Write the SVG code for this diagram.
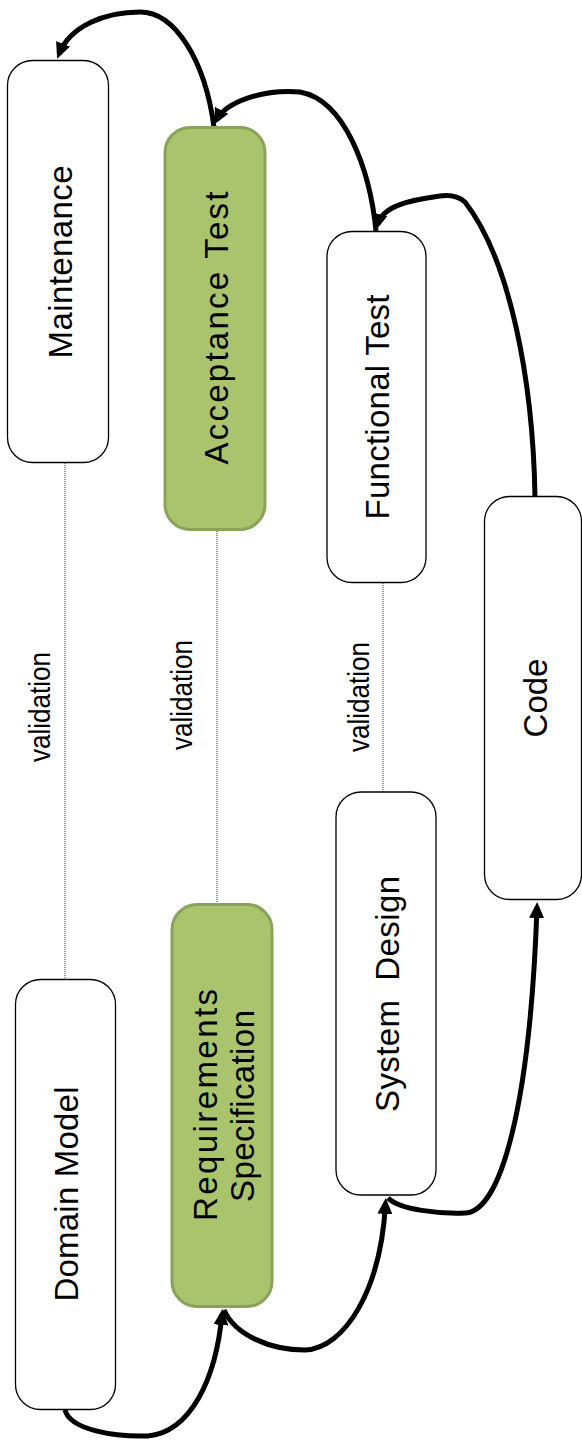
<svg xmlns="http://www.w3.org/2000/svg" width="582" height="1447" viewBox="0 0 582 1447">
  <style>
    .box { fill: #ffffff; stroke: #000000; stroke-width: 1.3; }
    .hl { fill: #a9c46c; stroke: #8ba25a; stroke-width: 3; }
    .lbl { font-family: "Liberation Sans", Arial, sans-serif; font-size: 33px; fill: #000000; text-anchor: middle; }
    .val { font-family: "Liberation Sans", Arial, sans-serif; font-size: 30px; fill: #000000; text-anchor: middle; }
    .flow { fill: none; stroke: #000000; stroke-width: 5; marker-end: url(#head); }
    .trace { fill: none; stroke: #333333; stroke-width: 1; stroke-dasharray: 1 1; }
  </style>
  <defs>
    <marker id="head" viewBox="0 0 16 15" refX="11" refY="7.5" markerWidth="16" markerHeight="15" markerUnits="userSpaceOnUse" orient="auto">
      <path d="M0,0 L16,7.5 L0,15 z" fill="#000000"/>
    </marker>
  </defs>

  <!-- validation traces between matching phases -->
  <g id="traces">
    <line class="trace" x1="65" y1="463" x2="65" y2="979"/>
    <line class="trace" x1="217" y1="531" x2="217" y2="903"/>
    <line class="trace" x1="383" y1="583" x2="383" y2="792"/>
    <text class="val" transform="translate(50,707) rotate(-90)" textLength="110" lengthAdjust="spacingAndGlyphs">validation</text>
    <text class="val" transform="translate(192,695) rotate(-90)" textLength="110" lengthAdjust="spacingAndGlyphs">validation</text>
    <text class="val" transform="translate(369,697) rotate(-90)" textLength="110" lengthAdjust="spacingAndGlyphs">validation</text>
  </g>

  <!-- phase flow -->
  <g id="connectors">
    <path class="flow" d="M65,1410 C70,1430 115,1437 148,1436 C190,1432 216,1380 222,1314"/>
    <path class="flow" d="M224,1310 C235,1335 270,1350 305,1350 C345,1348 381,1290 385.5,1203"/>
    <path class="flow" d="M388,1198 C400,1210 440,1214 465,1213 C500,1212 530,1110 537,907"/>
    <path class="flow" d="M535,497 C533,380 510,260 465,202 Q456,194 440,196 C410,200 382,206 377.5,225"/>
    <path class="flow" d="M376,231 C370,170 345,100 300,92 C262,89 226,102 216.5,120"/>
    <path class="flow" d="M214,127 C205,60 175,12 140,12 C105,12 70,26 59,54"/>
  </g>

  <g id="maintenance">
    <rect class="box" x="7.5" y="60.5" width="101" height="402" rx="25"/>
    <text class="lbl" transform="translate(72,262) rotate(-90)" textLength="193" lengthAdjust="spacing">Maintenance</text>
  </g>
  <g id="acceptance-test">
    <rect class="hl" x="165" y="127.5" width="100" height="402" rx="25"/>
    <text class="lbl" transform="translate(228,328) rotate(-90)" textLength="273" lengthAdjust="spacing">Acceptance Test</text>
  </g>
  <g id="functional-test">
    <rect class="box" x="327" y="231.5" width="99" height="351" rx="25"/>
    <text class="lbl" transform="translate(389,407) rotate(-90)" textLength="225" lengthAdjust="spacing">Functional Test</text>
  </g>
  <g id="code">
    <rect class="box" x="484.5" y="496.5" width="97" height="403" rx="25"/>
    <text class="lbl" transform="translate(547,698) rotate(-90)">Code</text>
  </g>
  <g id="system-design">
    <rect class="box" x="336" y="792" width="100" height="403" rx="25"/>
    <text class="lbl" transform="translate(399,994) rotate(-90)" xml:space="preserve" textLength="236" lengthAdjust="spacing">System  Design</text>
  </g>
  <g id="requirements-specification">
    <rect class="hl" x="172" y="904.5" width="100" height="402" rx="25"/>
    <text class="lbl" transform="translate(217,1105) rotate(-90)" textLength="232" lengthAdjust="spacing">Requirements</text>
    <text class="lbl" transform="translate(254,1106) rotate(-90)" textLength="192" lengthAdjust="spacing">Specification</text>
  </g>
  <g id="domain-model">
    <rect class="box" x="15.5" y="979.5" width="100" height="430" rx="25"/>
    <text class="lbl" transform="translate(78,1194) rotate(-90)" textLength="215" lengthAdjust="spacing">Domain Model</text>
  </g>
</svg>
